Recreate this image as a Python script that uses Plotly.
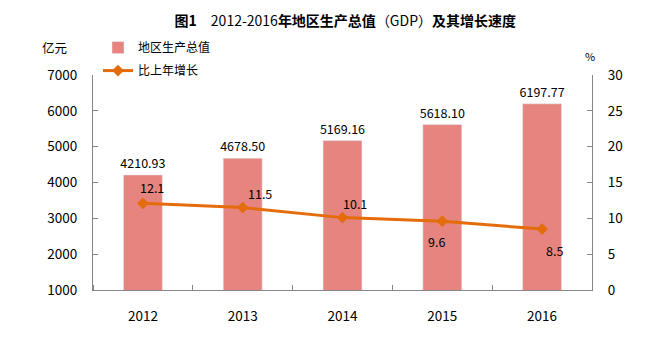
import plotly.graph_objects as go

years = ["2012", "2013", "2014", "2015", "2016"]
gdp = [4210.93, 4678.50, 5169.16, 5618.10, 6197.77]
growth = [12.1, 11.5, 10.1, 9.6, 8.5]
gdp_labels = ["4210.93", "4678.50", "5169.16", "5618.10", "6197.77"]
growth_labels = ["12.1", "11.5", "10.1", "9.6", "8.5"]

FONT = "Noto Sans CJK SC"
bar_color = "#E6857F"
line_color = "#E46C0A"
axis_color = "#868686"

xpos = list(range(len(years)))

fig = go.Figure()
fig.add_trace(go.Bar(
    x=xpos, y=gdp, name="地区生产总值", marker_color=bar_color,
    width=0.39, text=gdp_labels, textposition="outside", constraintext="none",
    textfont=dict(size=12.5, color="#000000", family=FONT), cliponaxis=False,
    legendgroup="a",
))
fig.add_trace(go.Scatter(
    x=xpos, y=growth, name="比上年增长", yaxis="y2", mode="lines+markers",
    line=dict(color=line_color, width=3), marker=dict(symbol="diamond", size=9, color=line_color),
    legendgroup="b",
))

shifts = [(9, 16), (17, 14), (12, 14), (-6, -20), (12, -21)]
for xv, yv, t, (dx, dy) in zip(xpos, growth, growth_labels, shifts):
    fig.add_annotation(x=xv, y=yv, xref="x", yref="y2", text=t, showarrow=False,
                       xshift=dx, yshift=dy, font=dict(size=12.5, color="#000000", family=FONT))

fig.add_annotation(xref="paper", yref="paper", x=-0.048, y=1.126, text="亿元", showarrow=False,
                   xanchor="right", yanchor="middle", font=dict(size=12.5, color="#000000", family=FONT))
fig.add_annotation(xref="paper", yref="paper", x=0.996, y=1.088, text="%", showarrow=False,
                   xanchor="center", yanchor="middle", font=dict(size=11, color="#000000", family=FONT))

fig.update_layout(
    width=654, height=354,
    margin=dict(l=93, r=62, t=75, b=64),
    paper_bgcolor="white", plot_bgcolor="white",
    title=dict(text="<b>图1</b>　2012-2016<b>年地区生产总值</b>（GDP）<b>及其增长速度</b>",
               x=0.528, xanchor="center",
               y=0.94, yanchor="middle", font=dict(size=14, color="#000000", family=FONT)),
    font=dict(family=FONT, size=13, color="#000000"),
    showlegend=True,
    legend=dict(x=0.01, y=1.195, xanchor="left", yanchor="top", bgcolor="rgba(0,0,0,0)",
                font=dict(size=12, family=FONT), tracegroupgap=4),
    xaxis=dict(range=[-0.5, 4.5], tickvals=xpos, ticktext=years, showline=True,
               linecolor=axis_color, linewidth=1, ticks="", showgrid=False, zeroline=False,
               tickfont=dict(size=13.5), ticklabelstandoff=14,
               minor=dict(tick0=0.5, dtick=1, ticks="inside", ticklen=5, tickcolor=axis_color,
                          showgrid=False)),
    yaxis=dict(range=[1000, 7000], dtick=1000, showline=True, linecolor=axis_color, linewidth=1,
               ticks="inside", ticklen=5, tickcolor=axis_color, showgrid=False, zeroline=False,
               ticklabelstandoff=12, tickfont=dict(size=13.5)),
    yaxis2=dict(range=[0, 30], dtick=5, overlaying="y", side="right", showline=True,
                linecolor=axis_color, linewidth=1, ticks="inside", ticklen=5, tickcolor=axis_color,
                showgrid=False, zeroline=False, ticklabelstandoff=12, tickfont=dict(size=13.5)),
)

fig.write_html("out.html")
